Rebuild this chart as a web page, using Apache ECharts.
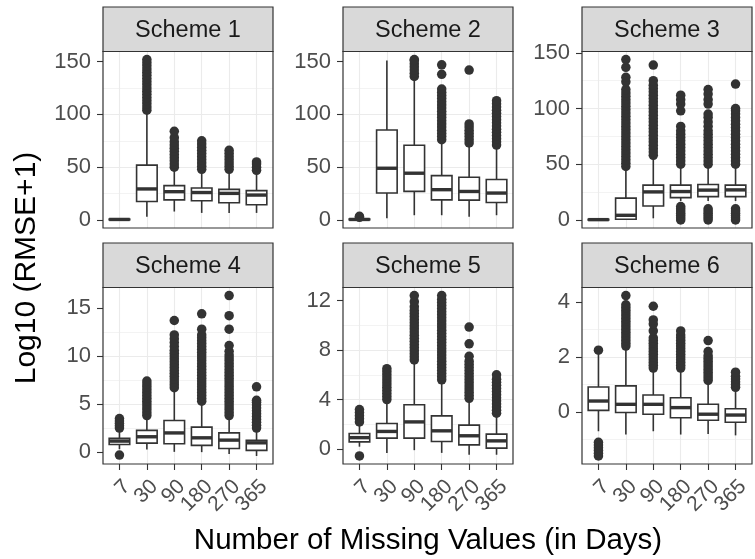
<!DOCTYPE html>
<html>
<head>
<meta charset="utf-8">
<script src="https://cdn.jsdelivr.net/npm/echarts@6/dist/echarts.min.js"></script>
<style>
  html, body { margin: 0; padding: 0; background: #fff; }
  #chart { width: 755px; height: 559px; }
</style>
</head>
<body>
<div id="chart"></div>
<script>
const schemes = ['Scheme 1', 'Scheme 2', 'Scheme 3', 'Scheme 4', 'Scheme 5', 'Scheme 6'];
const days = ['7', '30', '90', '180', '270', '365'];

// [lower whisker, Q1, median, Q3, upper whisker] for each day
const boxS1 = [[0, 0.2, 0.5, 0.8, 1.4], [3, 17.5, 29.4, 52, 101], [8, 19, 26.8, 32.5, 47],
  [6.7, 18.2, 26, 30.3, 46], [6.7, 16.3, 25.2, 29, 46], [6.7, 14.4, 23.6, 27.8, 44]];
const boxS2 = [[0, 0.2, 0.5, 0.9, 1.8], [1.6, 25.5, 49, 85.2, 151], [4.5, 27.1, 44.3, 70.8, 133],
  [4.5, 19, 28.7, 42, 73], [3, 18.8, 27, 40.5, 70], [4.5, 16.6, 25.5, 38.3, 68]];
const boxS3 = [[0, 0, 0.3, 0.6, 1.2], [0, 0.6, 4.2, 19.6, 45], [1.5, 12.6, 25.2, 31.3, 55],
  [17, 20.1, 25.5, 31.3, 47], [17, 21, 26.8, 31.8, 47], [17, 21, 27, 31.3, 47]];
const boxS4 = [[0.3, 0.8, 1.15, 1.43, 2.2], [0.28, 0.94, 1.6, 2.26, 3.57], [0.03, 0.87, 2.0, 3.3, 6.4],
  [0, 0.7, 1.49, 2.6, 5.1], [-0.2, 0.38, 1.25, 2.0, 3.6], [-0.4, 0.18, 0.97, 1.22, 2.26]];
const boxS5 = [[0.2, 0.59, 0.93, 1.26, 2.0], [-0.3, 0.89, 1.43, 2.07, 3.8], [-0.08, 0.89, 2.2, 3.58, 7.0],
  [-0.3, 0.62, 1.48, 2.69, 5.4], [-0.45, 0.35, 1.08, 1.94, 3.9], [-0.45, 0.08, 0.67, 1.21, 2.7]];
const boxS6 = [[-0.7, 0.06, 0.4, 0.91, 2.1], [-0.82, -0.02, 0.28, 0.95, 2.3], [-0.7, -0.08, 0.28, 0.62, 1.5],
  [-0.82, -0.21, 0.16, 0.52, 1.55], [-0.8, -0.3, -0.08, 0.28, 1.1], [-0.85, -0.37, -0.11, 0.12, 0.8]];

// outlier values for each day
const outS1 = [
  [],
  [104, 107, 110, 113, 116, 119, 122, 125, 128, 131, 134, 137, 140, 143, 146, 149, 152],
  [50, 53, 56, 59, 62, 65, 68, 71, 74, 78, 84],
  [48, 51, 54, 57, 60, 63, 66, 69, 72, 75],
  [48, 51, 54, 57, 60, 63, 66],
  [47, 50, 53, 55]
];
const outS2 = [
  [2.5, 3.5],
  [],
  [136, 139, 142, 145, 148, 151, 152],
  [76, 79, 82, 85, 88, 91, 94, 97, 100, 103, 106, 109, 112, 115, 118, 121, 124, 138, 147],
  [73, 76, 79, 82, 85, 88, 91, 142],
  [71, 74, 77, 80, 83, 86, 89, 92, 95, 98, 101, 104, 107, 110, 113]
];
const outS3 = [
  [],
  [48, 51, 54, 57, 60, 63, 66, 69, 72, 75, 78, 81, 84, 87, 90, 93, 96, 99, 102, 105, 108, 111, 114, 117, 124, 128, 137, 144],
  [58, 61, 64, 67, 70, 73, 76, 79, 82, 85, 88, 91, 94, 97, 100, 103, 106, 109, 112, 115, 118, 121, 125, 139],
  [0, 2, 4, 6, 8, 10, 12, 50, 53, 56, 59, 62, 65, 68, 71, 74, 77, 80, 84, 98, 104, 108, 112],
  [0, 2, 4, 6, 8, 10, 50, 53, 56, 59, 62, 65, 68, 71, 74, 77, 80, 84, 88, 92, 95, 104, 108, 113, 117],
  [0, 2, 4, 6, 8, 10, 50, 53, 56, 59, 62, 65, 68, 71, 74, 77, 80, 83, 86, 89, 92, 95, 98, 100, 122]
];
const outS4 = [
  [-0.3, 2.5, 2.75, 3.0, 3.25, 3.5],
  [3.8, 4.1, 4.4, 4.7, 5.0, 5.3, 5.6, 5.9, 6.2, 6.5, 6.8, 7.1, 7.4],
  [6.7, 7.0, 7.3, 7.6, 7.9, 8.2, 8.5, 8.8, 9.1, 9.4, 9.7, 10.0, 10.3, 10.6, 11.0, 11.4, 11.8, 12.2, 13.7],
  [5.3, 5.6, 5.9, 6.2, 6.5, 6.8, 7.1, 7.4, 7.7, 8.0, 8.3, 8.6, 8.9, 9.2, 9.5, 9.8, 10.1, 10.4, 10.7, 11.0, 11.3, 11.6, 11.9, 12.2, 12.8, 14.4],
  [3.8, 4.1, 4.4, 4.7, 5.0, 5.3, 5.6, 5.9, 6.2, 6.5, 6.8, 7.1, 7.4, 7.7, 8.0, 8.3, 8.6, 8.9, 9.2, 9.5, 9.8, 10.1, 10.5, 11.1, 12.8, 14.2, 16.3],
  [2.5, 2.8, 3.1, 3.4, 3.7, 4.0, 4.3, 4.6, 4.9, 5.2, 5.4, 6.8]
];
const outS5 = [
  [-0.55, 2.2, 2.45, 2.7, 2.95, 3.2],
  [4.0, 4.25, 4.5, 4.75, 5.0, 5.25, 5.5, 5.75, 6.0, 6.25, 6.5],
  [7.2, 7.45, 7.7, 7.95, 8.2, 8.45, 8.7, 8.95, 9.2, 9.45, 9.7, 9.95, 10.2, 10.45, 10.7, 10.95, 11.2, 11.5, 11.9, 12.4],
  [5.6, 5.85, 6.1, 6.35, 6.6, 6.85, 7.1, 7.35, 7.6, 7.85, 8.1, 8.35, 8.6, 8.85, 9.1, 9.35, 9.6, 9.85, 10.1, 10.35, 10.6, 10.85, 11.1, 11.35, 11.6, 11.85, 12.1, 12.4],
  [4.1, 4.35, 4.6, 4.85, 5.1, 5.35, 5.6, 5.85, 6.1, 6.35, 6.6, 6.85, 7.1, 7.5, 8.5, 9.85],
  [2.9, 3.15, 3.4, 3.65, 3.9, 4.15, 4.4, 4.65, 4.9, 5.15, 5.4, 5.65, 6.0]
];
const outS6 = [
  [-1.6, -1.5, -1.4, -1.3, -1.2, -1.1, 2.25],
  [2.4, 2.5, 2.6, 2.7, 2.8, 2.9, 3.0, 3.1, 3.2, 3.3, 3.4, 3.5, 3.6, 3.7, 3.8, 3.9, 4.24],
  [1.6, 1.7, 1.8, 1.9, 2.0, 2.1, 2.2, 2.3, 2.4, 2.5, 2.6, 2.7, 2.95, 3.2, 3.35, 3.85],
  [1.6, 1.7, 1.8, 1.9, 2.0, 2.1, 2.2, 2.3, 2.4, 2.5, 2.6, 2.7, 2.8, 2.95],
  [1.15, 1.25, 1.35, 1.45, 1.55, 1.65, 1.75, 1.85, 1.95, 2.05, 2.2, 2.6],
  [0.9, 1.0, 1.1, 1.2, 1.3, 1.45]
];

const yTicksS1 = [0, 50, 100, 150];
const yTicksS2 = [0, 50, 100, 150];
const yTicksS3 = [0, 50, 100, 150];
const yTicksS4 = [0, 5, 10, 15];
const yTicksS5 = [0, 4, 8, 12];
const yTicksS6 = [0, 2, 4];

const boxes = [boxS1, boxS2, boxS3, boxS4, boxS5, boxS6];
const outliers = [outS1, outS2, outS3, outS4, outS5, outS6];
const yTicks = [yTicksS1, yTicksS2, yTicksS3, yTicksS4, yTicksS5, yTicksS6];

// layout
const colLeft = [103, 343, 582];
const panelW = 170;
const stripTop = [7, 243];
const stripH = 44.5;
const panelH = 176.5;
const dark = '#333333';
const gridCol = '#EBEBEB';
const fontFam = '"Liberation Sans", Arial, sans-serif';
const xMin = 0.4;
const xMax = 6.6;

const chart = echarts.init(document.getElementById('chart'));

const grids = [], xAxes = [], yAxes = [], series = [], graphics = [];

schemes.forEach((name, i) => {
  const col = i % 3;
  const row = Math.floor(i / 3);
  const left = colLeft[col];
  const top = stripTop[row] + stripH;

  // ggplot-like range: data range expanded by 5%
  const vals = [];
  boxes[i].forEach((b) => vals.push(...b));
  outliers[i].forEach((o) => vals.push(...o));
  const lo = Math.min(...vals);
  const hi = Math.max(...vals);
  const pad = (hi - lo) * 0.05;
  const step = yTicks[i][1] - yTicks[i][0];

  grids.push({ left, top, width: panelW, height: panelH, outerBoundsMode: 'none', containLabel: false });

  xAxes.push({
    gridIndex: i,
    type: 'value',
    min: xMin,
    max: xMax,
    minInterval: 1,
    maxInterval: 1,
    axisLine: { show: false },
    axisTick: { show: false },
    axisLabel: { show: false },
    splitLine: {
      show: true,
      showMinLine: false,
      showMaxLine: false,
      lineStyle: { color: gridCol, width: 1.1 },
    },
  });

  yAxes.push({
    gridIndex: i,
    type: 'value',
    min: lo - pad,
    max: hi + pad,
    minInterval: step,
    maxInterval: step,
    axisLine: { show: false },
    axisTick: {
      show: true,
      customValues: yTicks[i],
      length: 6,
      lineStyle: { color: dark, width: 1.1 },
    },
    axisLabel: {
      customValues: yTicks[i],
      showMinLabel: true,
      showMaxLabel: true,
      margin: 12,
      fontSize: 22,
      fontFamily: fontFam,
      color: '#4D4D4D',
    },
    splitLine: {
      show: true,
      showMinLine: false,
      showMaxLine: false,
      lineStyle: { color: gridCol, width: 1.1 },
    },
    minorTick: { show: false, splitNumber: 2 },
    minorSplitLine: { show: true, lineStyle: { color: gridCol, width: 0.6 } },
  });

  const pts = [];
  outliers[i].forEach((o, d) => o.forEach((v) => pts.push([d + 1, v])));
  series.push({
    type: 'scatter',
    xAxisIndex: i,
    yAxisIndex: i,
    data: pts,
    symbolSize: 9.5,
    itemStyle: { color: dark, opacity: 1 },
    silent: true,
    z: 2,
  });

  series.push({
    type: 'custom',
    xAxisIndex: i,
    yAxisIndex: i,
    data: boxes[i].map((b, d) => [d + 1, ...b]),
    encode: { x: 0, y: [1, 2, 3, 4, 5] },
    silent: true,
    z: 3,
    renderItem: (params, api) => {
      const x = api.value(0);
      const pLo = api.coord([x, api.value(1)]);
      const pQ1 = api.coord([x, api.value(2)]);
      const pMd = api.coord([x, api.value(3)]);
      const pQ3 = api.coord([x, api.value(4)]);
      const pHi = api.coord([x, api.value(5)]);
      const w = api.size([0.75, 0])[0];
      const lineStyle = { stroke: dark, lineWidth: 1.6 };
      return {
        type: 'group',
        children: [
          { type: 'line', shape: { x1: pLo[0], y1: pLo[1], x2: pQ1[0], y2: pQ1[1] }, style: lineStyle },
          { type: 'line', shape: { x1: pQ3[0], y1: pQ3[1], x2: pHi[0], y2: pHi[1] }, style: lineStyle },
          {
            type: 'rect',
            shape: { x: pQ3[0] - w / 2, y: pQ3[1], width: w, height: pQ1[1] - pQ3[1] },
            style: { fill: '#ffffff', stroke: dark, lineWidth: 1.6 },
          },
          {
            type: 'line',
            shape: { x1: pMd[0] - w / 2, y1: pMd[1], x2: pMd[0] + w / 2, y2: pMd[1] },
            style: { stroke: dark, lineWidth: 3.4 },
          },
        ],
      };
    },
  });

  // strip and panel border
  graphics.push({
    type: 'rect',
    shape: { x: left, y: stripTop[row], width: panelW, height: stripH },
    style: { fill: '#D9D9D9', stroke: dark, lineWidth: 1.2 },
    z: 100,
  });
  graphics.push({
    type: 'text',
    x: left + panelW / 2,
    y: stripTop[row] + stripH / 2 + 1,
    style: {
      text: name,
      fill: '#1A1A1A',
      fontSize: 23.5,
      fontFamily: fontFam,
      align: 'center',
      verticalAlign: 'middle',
    },
    z: 101,
  });
  graphics.push({
    type: 'rect',
    shape: { x: left, y: top, width: panelW, height: panelH },
    style: { fill: 'none', stroke: dark, lineWidth: 1.2 },
    z: 100,
  });
});

// category axes for the bottom row labels, on grids inset so that
// band centres sit at the same places as 1..6 on the value axes
const unit = panelW / (xMax - xMin);
colLeft.forEach((left, c) => {
  const gi = grids.length;
  const inset = (1 - xMin - 0.5) * unit;
  grids.push({
    left: left + inset,
    top: stripTop[1] + stripH,
    width: days.length * unit,
    height: panelH,
    outerBoundsMode: 'none',
    containLabel: false,
  });
  xAxes.push({
    gridIndex: gi,
    type: 'category',
    data: days,
    boundaryGap: true,
    axisLine: { show: false },
    axisTick: {
      show: true,
      alignWithLabel: true,
      interval: 0,
      length: 6,
      lineStyle: { color: dark, width: 1.1 },
    },
    axisLabel: {
      interval: 0,
      rotate: 45,
      margin: 12,
      verticalAlign: 'top',
      lineHeight: 21,
      fontSize: 21,
      fontFamily: fontFam,
      color: '#4D4D4D',
    },
    splitLine: { show: false },
  });
  yAxes.push({
    gridIndex: gi,
    type: 'value',
    show: false,
  });
});

graphics.push({
  type: 'text',
  x: 428,
  y: 541,
  style: {
    text: 'Number of Missing Values (in Days)',
    fill: '#000000',
    fontSize: 29.5,
    fontFamily: fontFam,
    align: 'center',
    verticalAlign: 'middle',
  },
});
graphics.push({
  type: 'text',
  x: 27,
  y: 268,
  rotation: Math.PI / 2,
  style: {
    text: 'Log10 (RMSE+1)',
    fill: '#000000',
    fontSize: 30,
    fontFamily: fontFam,
    align: 'center',
    verticalAlign: 'middle',
  },
});

chart.setOption({
  animation: false,
  backgroundColor: '#ffffff',
  grid: grids,
  xAxis: xAxes,
  yAxis: yAxes,
  series,
  graphic: graphics,
});
</script>
</body>
</html>
